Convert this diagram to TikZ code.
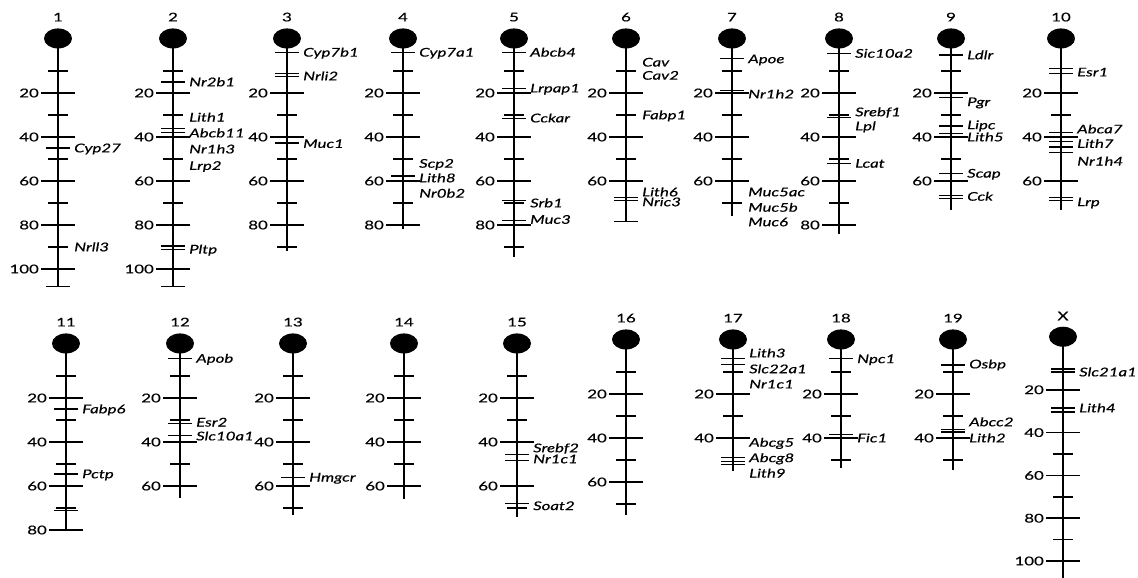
\documentclass[tikz,border=0pt]{standalone}
\usepackage{fontspec}
\setmainfont{Lato}[FakeStretch=1.4, FakeBold=0.5]
\usepackage{tikz}

% one chromosome: centromere, number and spine
\newcommand{\chrbody}[2]{%
  \fill (0,-4.8) ellipse [x radius=14pt, y radius=10pt];
  \node[chrnum] (n#1) at (0,-14.5) {#1};
  \draw[spine] (0,-4.8) -- (0,#2);}
% minor ticks, major ticks with their cM values
\newcommand{\cmticks}[2]{%
  \foreach \tk in {#1} \draw[minortick] (-10,\tk) -- (10,\tk);
  \foreach \tk in {#2} {\draw[majortick] (-17,\tk) -- (17,\tk);
    \node[num] (s\tk) at (-19,\tk) {\tk};}}
\newcommand{\markticks}[1]{\foreach \tk in {#1} \draw[marktick] (-12,\tk) -- (12,\tk);}
\newcommand{\genelabels}[1]{\foreach \p/\g in {#1} \node[gene] (\g) at (16,\p) {\g};}

\begin{document}
\begin{tikzpicture}[
    x=1pt, y=-1pt,
    chr/.style 2 args={shift={(#1,#2)}, y=-2.2pt},
    spine/.style={line width=2pt},
    majortick/.style={line width=1.5pt},
    minortick/.style={line width=1.5pt},
    marktick/.style={line width=1.2pt},
    num/.style={font=\fontsize{12}{13}\selectfont, anchor=east, inner sep=0pt, text height=8.6pt, text depth=0pt},
    gene/.style={font=\fontsize{12}{13}\selectfont\itshape, anchor=west, inner sep=0pt, text height=8.6pt, text depth=0pt},
    chrnum/.style={font=\fontsize{12}{13}\selectfont, inner sep=0pt}
]
\useasboundingbox (0,0) rectangle (1138,578);

% Top row
\begin{scope}[chr={58}{49}]
  \chrbody{1}{108}
  \cmticks{10,30,50,70,90}{20,40,...,100}
  \markticks{45,108}
  \genelabels{45/Cyp27, 90/Nrll3}
\end{scope}

\begin{scope}[chr={173}{49}]
  \chrbody{2}{108}
  \cmticks{10,30,50,70}{20,40,...,100}
  \markticks{15,36.3,38,89.5,91,108}
  \genelabels{15/Nr2b1, 31/Lith1, 38.2/Abcb11, 45.5/Nr1h3, 53/Lrp2, 91/Pltp}
\end{scope}

\begin{scope}[chr={287}{49}]
  \chrbody{3}{92}
  \cmticks{30,50,70,90}{20,40,60,80}
  \markticks{1.5,11.2,12.5,42.7}
  \genelabels{1.5/Cyp7b1, 12.3/Nrli2, 43/Muc1}
\end{scope}

\begin{scope}[chr={403}{49}]
  \chrbody{4}{82}
  \cmticks{10,30,50,70}{20,40,60,80}
  \markticks{1.5,57.7}
  \genelabels{1.5/Cyp7a1, 52/Scp2, 58.6/Lith8, 65.6/Nr0b2}
\end{scope}

\begin{scope}[chr={514}{49}]
  \chrbody{5}{94.5}
  \cmticks{10,30,50,70,90}{20,40,60,80}
  \markticks{1.5,18,31.5,68.8,78}
  \genelabels{1.5/Abcb4, 17.8/Lrpap1, 31.4/Cckar, 70/Srb1, 77.5/Muc3}
\end{scope}

\begin{scope}[chr={626}{49}]
  \chrbody{6}{78.5}
  \cmticks{10,30,50}{20,40,60}
  \markticks{67.5,69,78.5}
  \genelabels{6/Cav, 12/Cav2, 30/Fabp1, 65/Lith6, 69.5/Nric3}
\end{scope}

\begin{scope}[chr={732}{49}]
  \chrbody{7}{76}
  \cmticks{10,30,50,70}{20,40,60}
  \markticks{4.5,19}
  \genelabels{4.5/Apoe, 20.5/Nr1h2, 65/Muc5ac, 72/Muc5b, 78.6/Muc6}
\end{scope}

\begin{scope}[chr={839}{49}]
  \chrbody{8}{84}
  \cmticks{10,30,50,70}{20,40,60,80}
  \markticks{2,31,52}
  \genelabels{2/Sic10a2, 28.6/Srebf1, 35/Lpl, 52/Lcat}
\end{scope}

\begin{scope}[chr={951}{49}]
  \chrbody{9}{73}
  \cmticks{10,30,50}{20,40,60}
  \markticks{2.7,22,35,38.5,56.5,66.5,68}
  \genelabels{2.7/Ldlr, 24/Pgr, 34.5/Lipc, 40/Lith5, 56.5/Scap, 67/Cck}
\end{scope}

\begin{scope}[chr={1061}{49}]
  \chrbody{10}{73}
  \cmticks{30}{20,40,60}
  \markticks{9,11,38,42,44.5,47,67.5,69}
  \genelabels{10.5/Esr1, 36.4/Abca7, 43/Lith7, 51/Nr1h4, 69.5/Lrp}
\end{scope}

% Bottom row
\begin{scope}[chr={66}{354}]
  \chrbody{11}{80}
  \cmticks{10,30,50,70}{20,40,60,80}
  \markticks{25,54.5,71}
  \genelabels{25/Fabp6, 54.5/Pctp}
\end{scope}

\begin{scope}[chr={180}{354}]
  \chrbody{12}{65.5}
  \cmticks{10,30,50}{20,40,60}
  \markticks{2,31.5,37}
  \genelabels{2/Apob, 31/Esr2, 37.3/Slc10a1}
\end{scope}

\begin{scope}[chr={293}{354}]
  \chrbody{13}{73}
  \cmticks{10,30,50,70}{20,40,60}
  \markticks{56}
  \genelabels{56/Hmgcr}
\end{scope}

\begin{scope}[chr={404}{354}]
  \chrbody{14}{66}
  \cmticks{10,30,50}{20,40,60}
\end{scope}

\begin{scope}[chr={517}{354}]
  \chrbody{15}{74}
  \cmticks{10,30,70}{20,40,60}
  \markticks{45.5,48.5,68}
  \genelabels{42.7/Srebf2, 47.7/Nr1c1, 69/Soat2}
\end{scope}

\begin{scope}[chr={626}{350}]
  \chrbody{16}{75}
  \cmticks{10,30,50,70}{20,40,60}
\end{scope}

\begin{scope}[chr={733}{350}]
  \chrbody{17}{55}
  \cmticks{10,30}{20,40}
  \markticks{4,6.5,49,50.5,52}
  \genelabels{1.4/Lith3, 8.6/Slc22a1, 15.5/Nr1c1, 42/Abcg5, 49/Abcg8, 56/Lith9}
\end{scope}

\begin{scope}[chr={841}{350}]
  \chrbody{18}{53.6}
  \cmticks{10,30,50}{20,40}
  \markticks{4,38.5}
  \genelabels{4/Npc1, 40/Fic1}
\end{scope}

\begin{scope}[chr={953}{350}]
  \chrbody{19}{54.5}
  \cmticks{10,30,50}{20,40}
  \markticks{6.8,36,37.3}
  \genelabels{6.4/Osbp, 32.7/Abcc2, 40/Lith2}
\end{scope}

\begin{scope}[chr={1063}{347}, y=-2.14pt]
  \chrbody{X}{108}
  \cmticks{50,70,90}{20,40,...,100}
  \markticks{10.3,11.7,28.5,30.4}
  \genelabels{11.7/Slc21a1, 28.5/Lith4}
\end{scope}

\end{tikzpicture}
\end{document}
